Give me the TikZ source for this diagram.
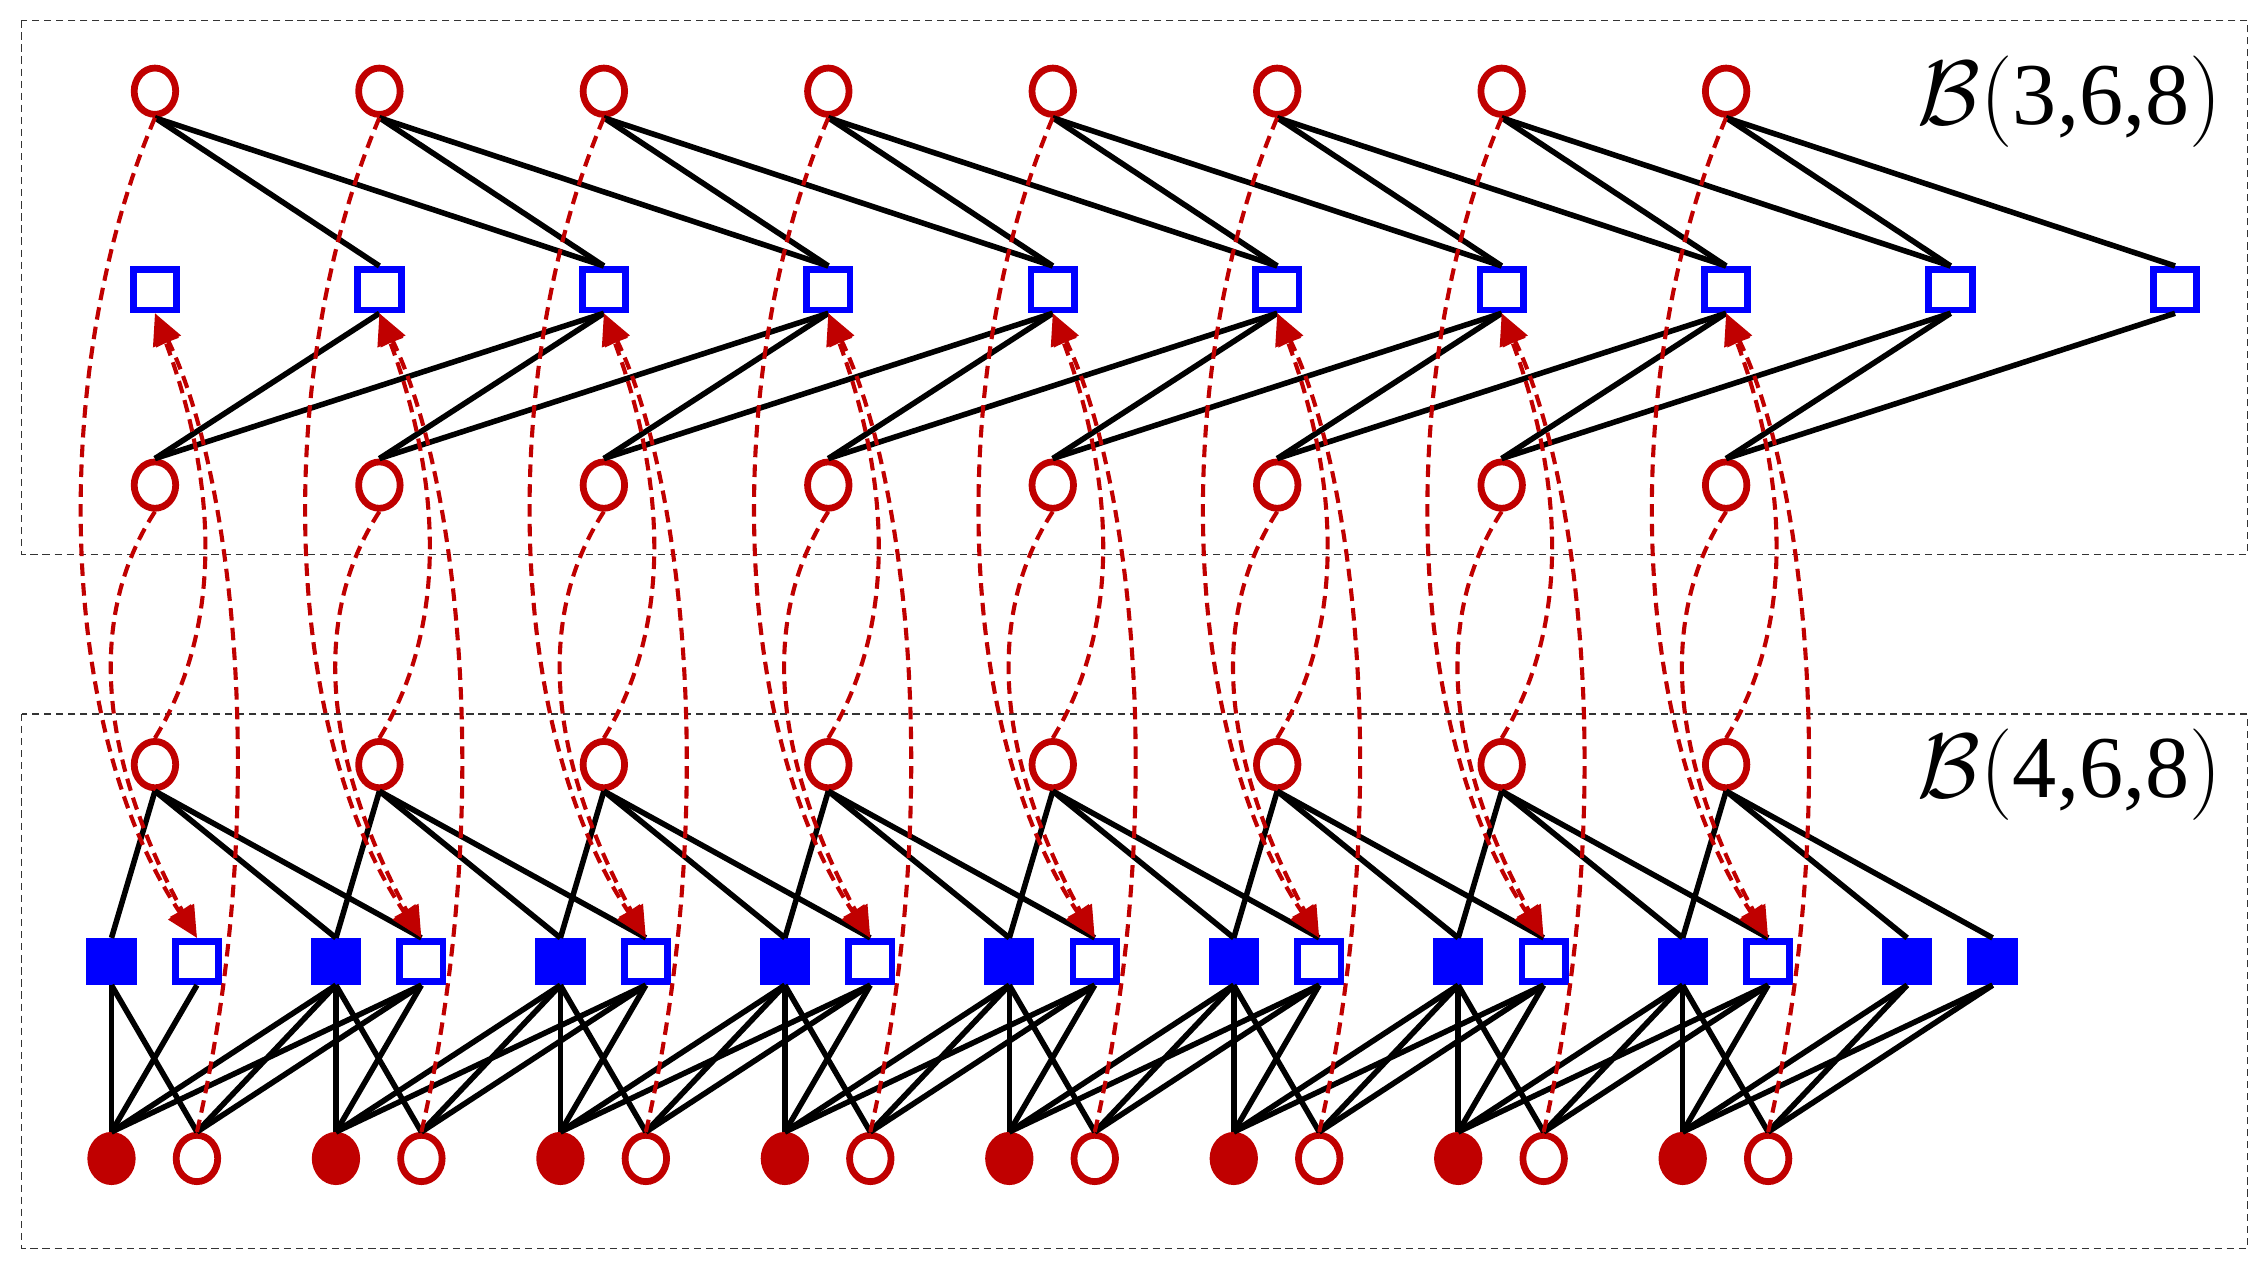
\documentclass[tikz,border=0pt]{standalone}
\usepackage{fontspec}
\setmainfont{Liberation Serif}
\usetikzlibrary{shapes.geometric,arrows.meta}
\definecolor{dred}{RGB}{192,0,0}
\definecolor{dblue}{RGB}{0,0,255}
\begin{document}
\begin{tikzpicture}[x=0.3mm,y=-0.3mm,
  vc/.style={ellipse,draw=dred,line width=1.4mm,fill=white,minimum width=8.6mm,minimum height=9.6mm,inner sep=0pt},
  vf/.style={ellipse,draw=dred,line width=1.4mm,fill=dred,minimum width=8.6mm,minimum height=9.6mm,inner sep=0pt},
  cc/.style={rectangle,draw=dblue,line width=1.4mm,fill=white,minimum width=9mm,minimum height=8.4mm,inner sep=0pt},
  cf/.style={rectangle,draw=dblue,line width=1.4mm,fill=dblue,minimum width=9mm,minimum height=8.4mm,inner sep=0pt},
  ed/.style={line width=1.15mm,black},
  rd/.style={line width=0.85mm,dred,dash pattern=on 2.6mm off 1.5mm},
  ra/.style={rd,-{Triangle[length=6.5mm,width=5.5mm]}},
  box/.style={draw=black!80,line width=0.3mm,dash pattern=on 1.5mm off 1mm},
  lab/.style={anchor=east,scale=2.6,transform shape,font=\fontsize{20}{24}\selectfont}]
\useasboundingbox (0,0) rectangle (1560,872);
\draw[box] (15,14) rectangle (1552,383);
\draw[box] (15,493) rectangle (1552,862);
\node[lab] (l1) at (1545,70) {$\mathcal{B}\biggl(\hbox{3,6,8}\biggr)$};
\node[lab] (l2) at (1545,535) {$\mathcal{B}\biggl(\hbox{4,6,8}\biggr)$};
% top code
\foreach \j in {1,...,10}{\pgfmathsetmacro\xx{107+155*(\j-1)}\node[cc] (s\j) at (\xx,200) {};}
\foreach \i in {1,...,8}{\pgfmathsetmacro\xx{107+155*(\i-1)}
  \node[vc] (u\i) at (\xx,63) {};
  \node[vc] (w\i) at (\xx,335) {};
  \node[vc] (t\i) at (\xx,528) {};}
% bottom code
\foreach \i in {1,...,9}{\pgfmathsetmacro\xa{77+155*(\i-1)}\pgfmathsetmacro\xb{136+155*(\i-1)}
  \node[cf] (a\i) at (\xa,664) {};
  \ifnum\i<9 \node[cc] (b\i) at (\xb,664) {};\else \node[cf] (b\i) at (\xb,664) {};\fi}
\foreach \i in {1,...,8}{\pgfmathsetmacro\xa{77+155*(\i-1)}\pgfmathsetmacro\xb{136+155*(\i-1)}
  \node[vf] (f\i) at (\xa,800) {};
  \node[vc] (h\i) at (\xb,800) {};}
% edges
\foreach \i in {1,...,8}{\pgfmathtruncatemacro\p{\i+1}\pgfmathtruncatemacro\q{\i+2}
  \draw[ed] (u\i.south) -- (s\p.north); \draw[ed] (u\i.south) -- (s\q.north);
  \draw[ed] (w\i.north) -- (s\p.south); \draw[ed] (w\i.north) -- (s\q.south);
  \draw[ed] (t\i.south) -- (a\i.north); \draw[ed] (t\i.south) -- (a\p.north); \draw[ed] (t\i.south) -- (b\p.north);
  \draw[ed] (f\i.north) -- (a\i.south); \draw[ed] (f\i.north) -- (b\i.south);
  \draw[ed] (f\i.north) -- (a\p.south); \draw[ed] (f\i.north) -- (b\p.south);
  \draw[ed] (h\i.north) -- (a\i.south); \draw[ed] (h\i.north) -- (a\p.south); \draw[ed] (h\i.north) -- (b\p.south);}
% red dashed transfer curves
\foreach \i in {1,...,8}{\pgfmathsetmacro\x{107+155*(\i-1)}
  \pgfmathsetmacro\xl{\x-72}\pgfmathsetmacro\xm{\x-70}
  \pgfmathsetmacro\xn{\x-50}\pgfmathsetmacro\xo{\x-35}
  \pgfmathsetmacro\xp{\x+55}\pgfmathsetmacro\xq{\x+35}
  \pgfmathsetmacro\xr{\x+80}\pgfmathsetmacro\xs{\x+55}
  \draw[ra] (u\i.south) .. controls (\xl,250) and (\xm,500) .. (b\i.north);
  \draw[ra] (w\i.south) .. controls (\xn,430) and (\xo,530) .. (b\i.north);
  \draw[ra] (t\i.north) .. controls (\xp,420) and (\xq,310) .. (s\i.south);
  \draw[ra] (h\i.north) .. controls (\xr,560) and (\xs,330) .. (s\i.south);}
\end{tikzpicture}
\end{document}
